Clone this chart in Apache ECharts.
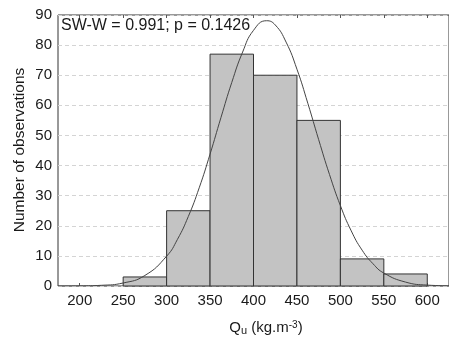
<!DOCTYPE html>
<html>
<head>
<meta charset="utf-8">
<script src="https://cdn.jsdelivr.net/npm/echarts@6/dist/echarts.min.js"></script>
<style>
  html, body { margin: 0; padding: 0; background: #fff; }
  #chart { width: 449px; height: 337px; }
</style>
</head>
<body>
<div id="chart"></div>
<script>
// histogram bins (lower edge, upper edge) and counts
const binStart = [250, 300, 350, 400, 450, 500, 550]
const binEnd = [300, 350, 400, 450, 500, 550, 600]
const counts = [3, 25, 77, 70, 55, 9, 4]

// fitted normal curve
const curveX = [175, 200, 225, 250, 275, 300, 312.5, 325, 337.5, 350, 362.5, 375, 387.5, 400, 415, 425, 437.5, 450, 462.5, 475, 487.5, 500, 512.5, 525, 537.5, 550, 575, 600, 625]
const curveY = [0, 0.04, 0.23, 1.0, 3.5, 9.9, 15.5, 23.1, 32.6, 43.8, 55.9, 67.6, 77.7, 84.9, 88.1, 86.7, 81.0, 72.0, 60.7, 48.6, 37.0, 26.7, 18.3, 11.9, 7.4, 4.3, 1.3, 0.3, 0.06]

const xTicks = [200, 250, 300, 350, 400, 450, 500, 550, 600]
const statText = 'SW-W = 0.991; p = 0.1426'

const fontFamily = 'Liberation Sans, Arial, sans-serif'
const textColor = '#1a1a1a'

const chart = echarts.init(document.getElementById('chart'))

chart.setOption({
  animation: false,
  textStyle: { fontFamily },
  grid: {
    left: 58,
    top: 15,
    right: -7,
    bottom: 51,
    show: true,
    borderColor: '#333',
    borderWidth: 1,
  },
  xAxis: [
    {
      type: 'value',
      min: 175,
      max: 625,
      axisLine: { show: false },
      splitLine: { show: false },
      axisTick: {
        show: true,
        inside: true,
        length: 3,
        customValues: xTicks,
        lineStyle: { color: '#555' },
      },
      axisLabel: {
        customValues: xTicks,
        color: textColor,
        fontSize: 15,
        margin: 7,
        fontFamily,
      },
    },
    {
      type: 'value',
      position: 'top',
      min: 175,
      max: 625,
      axisLine: { show: false },
      splitLine: { show: false },
      axisLabel: { show: false },
      axisTick: {
        show: true,
        inside: true,
        length: 3,
        customValues: xTicks,
        lineStyle: { color: '#555' },
      },
    },
  ],
  yAxis: {
    type: 'value',
    min: 0,
    max: 90,
    interval: 10,
    axisLine: { show: false },
    axisTick: { show: false },
    splitLine: {
      show: true,
      lineStyle: { type: [4, 3], color: '#d4d4d4', width: 1 },
    },
    axisLabel: {
      color: textColor,
      fontSize: 15,
      margin: 6,
      fontFamily,
    },
  },
  graphic: [
    {
      type: 'text',
      left: 61,
      top: 18,
      style: {
        text: statText,
        font: '16px ' + fontFamily,
        fill: textColor,
      },
      z: 100,
    },
    {
      type: 'text',
      x: 20,
      y: 150,
      rotation: Math.PI / 2,
      style: {
        text: 'Number of observations',
        font: '15.5px ' + fontFamily,
        fill: textColor,
        align: 'center',
        verticalAlign: 'middle',
      },
    },
    {
      type: 'text',
      x: 266,
      y: 328,
      style: {
        text: '{q|Q}{sub|u}{q| (kg.m}{sup|-3}{q|)}',
        fill: textColor,
        align: 'center',
        verticalAlign: 'middle',
        rich: {
          q: { fontSize: 15, fontFamily, fill: textColor },
          sub: { fontSize: 11, fontFamily, fill: textColor, padding: [6, 0, 0, 0] },
          sup: { fontSize: 10, fontFamily, fill: textColor, padding: [0, 0, 6, 0] },
        },
      },
    },
  ],
  series: [
    {
      type: 'custom',
      xAxisIndex: 0,
      data: binStart.map((s, i) => [s, binEnd[i], counts[i]]),
      renderItem: (params, api) => {
        const p0 = api.coord([api.value(0), api.value(2)])
        const p1 = api.coord([api.value(1), 0])
        return {
          type: 'rect',
          shape: { x: p0[0], y: p0[1], width: p1[0] - p0[0], height: p1[1] - p0[1] },
          style: { fill: '#c3c3c3', stroke: '#333', lineWidth: 1 },
        }
      },
      z: 2,
    },
    {
      type: 'line',
      xAxisIndex: 0,
      data: curveX.map((x, i) => [x, curveY[i]]),
      smooth: true,
      symbol: 'none',
      lineStyle: { color: '#444', width: 1 },
      z: 3,
    },
  ],
})
</script>
</body>
</html>
